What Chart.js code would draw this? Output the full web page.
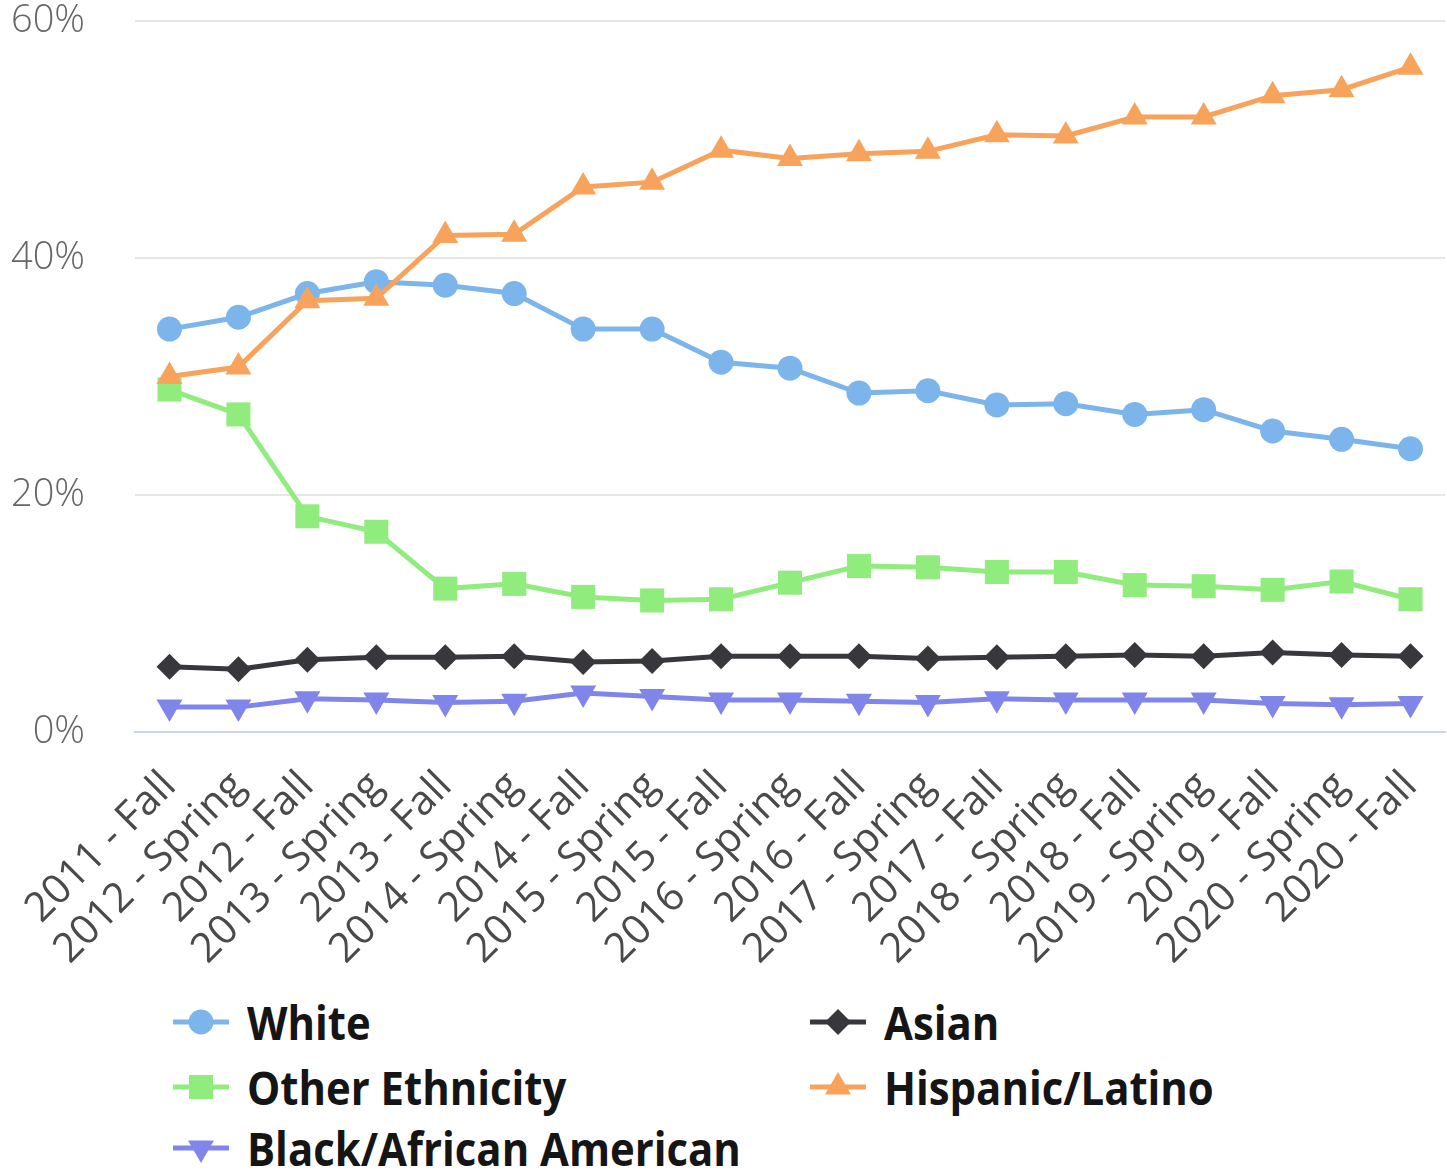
<!DOCTYPE html>
<html>
<head>
<meta charset="utf-8">
<script src="https://cdn.jsdelivr.net/npm/chart.js@4/dist/chart.umd.min.js"></script>
<style>
  html, body { margin: 0; padding: 0; background: #fff; overflow: hidden; }
  #wrap { position: relative; width: 1462px; height: 990px; }
  #legend { position: absolute; left: 0; top: 0; width: 1447px; }
  .item { position: absolute; height: 60px; display: flex; align-items: center;
          font-family: "Open Sans", sans-serif; font-weight: 700;
          font-size: 46px; color: #151515; white-space: nowrap; }
  .item canvas { margin-right: 18px; }
  .item span { display: inline-block; transform: scaleX(0.91); transform-origin: left center; }
</style>
</head>
<body>
<div id="wrap"><canvas id="ethnicityChart"></canvas></div>
<div id="legend"></div>
<script>
const terms = ["2011 - Fall", "2012 - Spring", "2012 - Fall", "2013 - Spring", "2013 - Fall",
    "2014 - Spring", "2014 - Fall", "2015 - Spring", "2015 - Fall", "2016 - Spring",
    "2016 - Fall", "2017 - Spring", "2017 - Fall", "2018 - Spring", "2018 - Fall",
    "2019 - Spring", "2019 - Fall", "2020 - Spring", "2020 - Fall"];

// percent of students per term
const white = [34.0, 35.0, 37.0, 38.0, 37.7, 37.0, 34.0, 34.0, 31.2, 30.7,
    28.6, 28.8, 27.6, 27.7, 26.8, 27.2, 25.4, 24.7, 23.9];
const asian = [5.5, 5.3, 6.1, 6.3, 6.3, 6.4, 5.9, 6.0, 6.4, 6.4,
    6.4, 6.2, 6.3, 6.4, 6.5, 6.4, 6.7, 6.5, 6.4];
const otherEthnicity = [28.9, 26.8, 18.2, 16.9, 12.1, 12.5, 11.4, 11.1, 11.2, 12.6,
    14.0, 13.9, 13.5, 13.5, 12.4, 12.3, 12.0, 12.7, 11.2];
const hispanic = [30.0, 30.8, 36.4, 36.6, 41.9, 42.0, 46.0, 46.4, 49.1, 48.4,
    48.8, 49.0, 50.4, 50.3, 51.9, 51.9, 53.7, 54.2, 56.1];
const black = [2.1, 2.1, 2.8, 2.7, 2.5, 2.6, 3.3, 3.0, 2.7, 2.7,
    2.6, 2.5, 2.8, 2.7, 2.7, 2.7, 2.4, 2.3, 2.4];

const yTicks = [0, 20, 40, 60];

// Series setup
const series = [
    { label: "White", data: white, color: "#7cb5ec", style: "circle", radius: 12.5, rot: 0 },
    { label: "Asian", data: asian, color: "#38383c", style: "rectRot", radius: 13, rot: 0 },
    { label: "Other Ethnicity", data: otherEthnicity, color: "#90ed7d", style: "rect", radius: 17, rot: 0 },
    { label: "Hispanic/Latino", data: hispanic, color: "#f7a35c", style: "triangle", radius: 15, rot: 0 },
    { label: "Black/African American", data: black, color: "#8085e9", style: "triangle", radius: 15, rot: 180 }
];

const canvas = document.getElementById("ethnicityChart");
canvas.width = 1462;
canvas.height = 990;

new Chart(canvas, {
    type: "line",
    data: {
        labels: terms,
        datasets: series.map((s, i) => ({
            label: s.label,
            data: s.data,
            borderColor: s.color,
            backgroundColor: s.color,
            borderWidth: 5,
            pointStyle: s.style,
            pointRadius: s.radius,
            pointRotation: s.rot,
            pointBorderWidth: 0,
            pointBackgroundColor: s.color,
            tension: 0,
            fill: false,
            order: series.length - i
        }))
    },
    options: {
        responsive: false,
        animation: false,
        layout: { padding: { left: 0, right: 5, top: 0, bottom: 0 } },
        plugins: { legend: { display: false }, tooltip: { enabled: false } },
        scales: {
            x: {
                offset: true,
                grid: { display: false },
                border: { display: true, color: "#ccd6eb", width: 2 },
                ticks: {
                    minRotation: 45,
                    maxRotation: 45,
                    autoSkip: false,
                    padding: 22,
                    color: "#4a4a4a",
                    font: { family: "Open Sans", size: 41 }
                },
                afterFit: (scale) => {
                    scale.height = 258;
                    scale.paddingLeft = 0;
                    scale.paddingRight = 0;
                }
            },
            y: {
                min: 0,
                max: 60,
                afterBuildTicks: (scale) => { scale.ticks = yTicks.map(v => ({ value: v })); },
                grid: { color: "#e6e6e6", lineWidth: 2, drawTicks: false },
                border: { display: false },
                ticks: {
                    padding: 50,
                    color: "#666",
                    font: { family: "Open Sans", size: 38, weight: 300 },
                    callback: (v) => v + "%"
                },
                afterFit: (scale) => {
                    scale.width = 135;
                    scale.paddingTop = 21;
                    scale.paddingBottom = 0;
                }
            }
        }
    }
});

// Legend, two columns like the original
const legendPos = [
    { x: 173, y: 992 }, { x: 810, y: 992 },
    { x: 173, y: 1057 }, { x: 810, y: 1057 },
    { x: 173, y: 1118 }
];
const legend = document.getElementById("legend");
series.forEach((s, i) => {
    const item = document.createElement("div");
    item.className = "item";
    item.style.left = legendPos[i].x + "px";
    item.style.top = legendPos[i].y + "px";
    const icon = document.createElement("canvas");
    icon.width = 56;
    icon.height = 34;
    const ctx = icon.getContext("2d");
    ctx.strokeStyle = s.color;
    ctx.lineWidth = 5;
    ctx.beginPath();
    ctx.moveTo(0, 17);
    ctx.lineTo(56, 17);
    ctx.stroke();
    ctx.fillStyle = s.color;
    Chart.helpers.drawPoint(ctx, { pointStyle: s.style, radius: s.radius, rotation: s.rot, borderWidth: 0 }, 28, 17);
    item.appendChild(icon);
    const txt = document.createElement("span");
    txt.textContent = s.label;
    item.appendChild(txt);
    legend.appendChild(item);
});
</script>
</body>
</html>
